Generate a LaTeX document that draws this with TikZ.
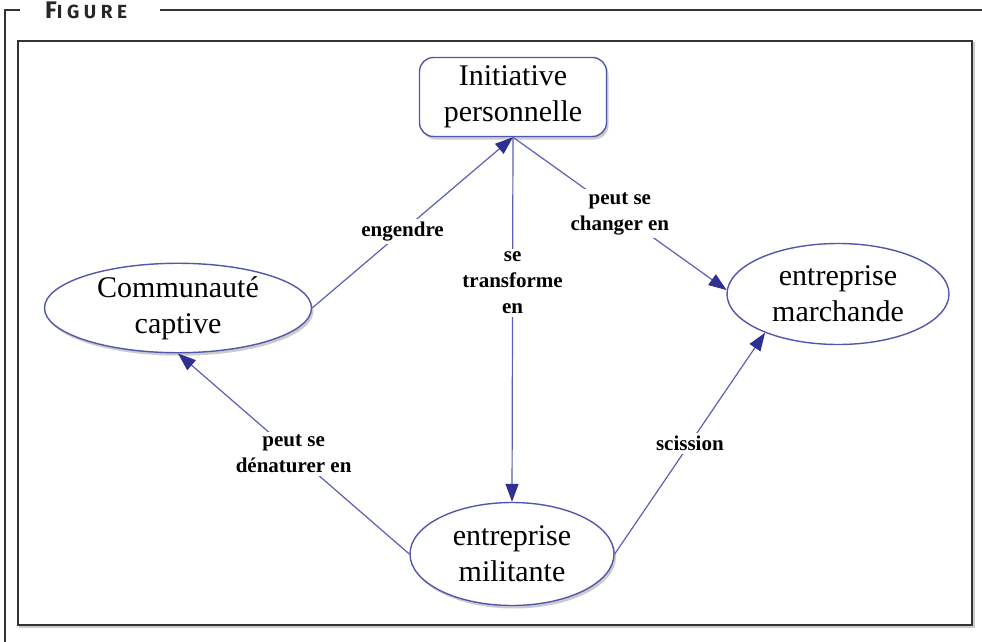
\documentclass[tikz,border=0pt]{standalone}
\usepackage{fontspec}
\setmainfont{Liberation Serif}
\newfontfamily\figfont{Fira Sans}
\usetikzlibrary{arrows.meta,shapes.geometric,shadows}
\definecolor{edgeblue}{HTML}{5B5FB8}
\definecolor{tipblue}{HTML}{2E3192}
\definecolor{nodeblue}{HTML}{5257AE}
\definecolor{framegray}{HTML}{333333}
\tikzset{
  concept/.style={draw=nodeblue, line width=1.4pt, fill=white, align=center, text=black,
    font=\fontsize{30}{36}\selectfont, inner sep=0pt},
  shadowed/.style={drop shadow={shadow xshift=2pt, shadow yshift=-3pt, opacity=0.4, fill=gray}},
  link/.style={draw=edgeblue, line width=1.2pt,
    -{Triangle[length=18pt,width=13pt,color=tipblue]}},
  linklabel/.style={fill=white, align=center, text=black, inner sep=3pt,
    font=\fontsize{21}{26}\selectfont\bfseries},
}
\begin{document}
\begin{tikzpicture}[x=1pt,y=-1pt]
\useasboundingbox (0,0) rectangle (982,642);
% outer frame
\draw[framegray, line width=1.3pt] (5,642) -- (5,10) -- (20,10);
\draw[framegray, line width=1.3pt] (160,10) -- (982,10);
\node[anchor=base west, inner sep=0pt, text=black!85] (title) at (45,19)
  {\figfont\bfseries\fontsize{24}{24}\selectfont F\fontsize{19}{19}\selectfont\addfontfeatures{LetterSpace=24}IGURE};
% inner box
\draw[gray!40, line width=1.5pt] (20,43) rectangle (974,627);
\draw[framegray, line width=1.3pt, fill=white] (18,41) rectangle (972,625);
% nodes
\node[concept, shadowed, rounded corners=14pt, minimum width=187pt, minimum height=79pt] (init) at (513,97) {Initiative\\personnelle};
\node[concept, shadowed, ellipse, minimum width=267pt, minimum height=89pt] (comm) at (178,308) {Communauté\\captive};
\node[concept, ellipse, minimum width=222pt, minimum height=101pt] (march) at (838,294) {entreprise\\marchande};
\node[concept, shadowed, ellipse, minimum width=204pt, minimum height=103pt] (mil) at (512,554) {entreprise\\militante};
% links
\draw[link] (comm.east) -- node[linklabel, pos=0.45] (l1) {engendre} (init.south);
\draw[link] (init.south) -- node[linklabel, pos=0.40] (l2) {se\\transforme\\en} (mil.north);
\draw[link] (init.south) -- node[linklabel, pos=0.5] (l3) {peut se\\changer en} (march.178);
\draw[link] (mil.west) -- node[linklabel, pos=0.5] (l4) {peut se\\dénaturer en} (comm.south);
\draw[link] (mil.east) -- node[linklabel, pos=0.5] (l5) {scission} (march.-152);
\end{tikzpicture}
\end{document}
